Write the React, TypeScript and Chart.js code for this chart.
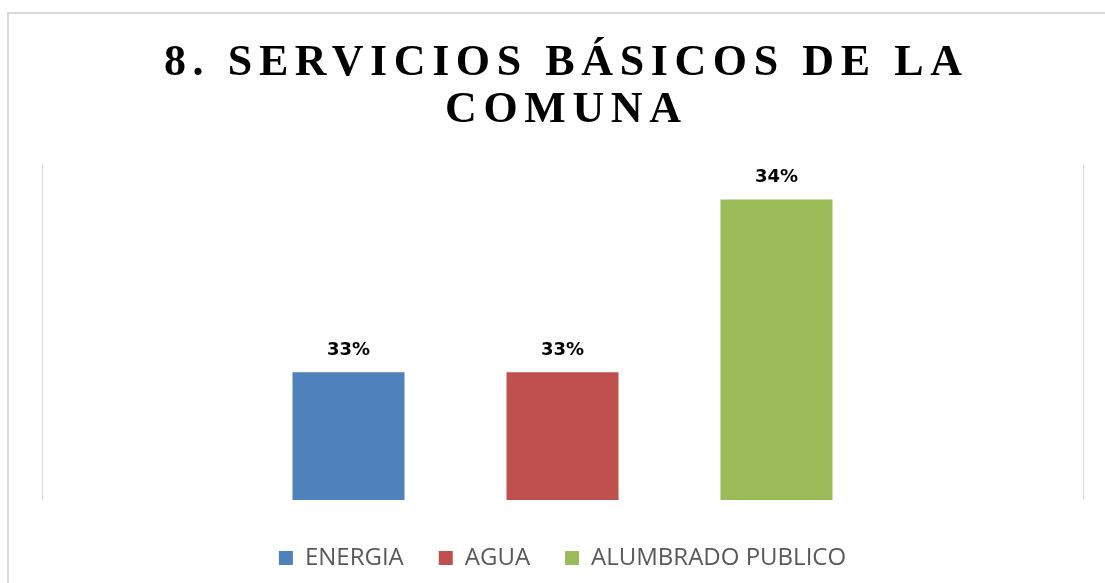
import React, { useEffect, useRef } from 'react';
import { Chart, registerables } from 'chart.js';

Chart.register(...registerables);

const titleLines = ['8. SERVICIOS BÁSICOS DE LA', 'COMUNA'];
const categories = [''];
const seriesNames = ['ENERGIA', 'AGUA', 'ALUMBRADO PUBLICO'];
const energiaValues = [33];
const aguaValues = [33];
const alumbradoValues = [34];
const seriesColors = ['#4F81BD', '#C0504D', '#9BBB59'];
const yMin = 32.26;
const yMax = 34.2;

const titlePlugin = {
  id: 'spacedTitle',
  afterDraw(chart: any) {
    const ctx = chart.ctx as CanvasRenderingContext2D;
    ctx.save();
    ctx.font = 'bold 44px "Liberation Serif", "Times New Roman", serif';
    ctx.fillStyle = '#000000';
    ctx.textAlign = 'left';
    ctx.textBaseline = 'alphabetic';
    const spacing = 6.6;
    const baselines = [74.5, 122];
    const centerX = 563;
    titleLines.forEach((line, i) => {
      (ctx as any).letterSpacing = '0px';
      const natural = ctx.measureText(line).width;
      const w = natural + spacing * (line.length - 1);
      (ctx as any).letterSpacing = spacing + 'px';
      ctx.fillText(line, centerX - w / 2, baselines[i]);
    });
    ctx.restore();
  },
};

const labelPlugin = {
  id: 'barLabels',
  afterDatasetsDraw(chart: any) {
    const ctx = chart.ctx as CanvasRenderingContext2D;
    ctx.save();
    ctx.font = 'bold 18px "DejaVu Sans", sans-serif';
    ctx.fillStyle = '#000000';
    ctx.textAlign = 'center';
    ctx.textBaseline = 'alphabetic';
    chart.data.datasets.forEach((ds: any, di: number) => {
      const meta = chart.getDatasetMeta(di);
      meta.data.forEach((bar: any, i: number) => {
        const v = ds.data[i];
        ctx.fillText(v + '%', bar.x, bar.y - 17.5);
      });
    });
    ctx.restore();
  },
};

export default function App() {
  const canvasRef = useRef<HTMLCanvasElement | null>(null);

  useEffect(() => {
    if (!canvasRef.current) return;
    const seriesValues = [energiaValues, aguaValues, alumbradoValues];
    const chart = new Chart(canvasRef.current, {
      type: 'bar',
      data: {
        labels: categories,
        datasets: seriesNames.map((name, i) => ({
          label: name,
          data: seriesValues[i],
          backgroundColor: seriesColors[i],
          borderWidth: 0,
          categoryPercentage: 0.6167,
          barPercentage: 0.5234,
        })),
      },
      options: {
        animation: false,
        responsive: true,
        maintainAspectRatio: false,
        events: [],
        layout: { padding: { top: 165, left: 42, right: 22, bottom: 3 } },
        plugins: {
          title: { display: false },
          tooltip: { enabled: false },
          legend: {
            display: true,
            position: 'bottom',
            labels: {
              boxWidth: 14,
              boxHeight: 14,
              padding: 35,
              color: '#595959',
              font: { family: '"Open Sans", sans-serif', size: 24 },
            },
          },
        },
        scales: {
          x: {
            display: true,
            grid: {
              display: true,
              offset: true,
              color: '#d9d9d9',
              lineWidth: 1,
              drawTicks: true,
              tickLength: 11,
              tickColor: 'rgba(0,0,0,0)',
            },
            border: { display: false },
            ticks: { display: false },
          },
          y: {
            display: false,
            min: yMin,
            max: yMax,
            bounds: 'data',
            grace: 0,
            beginAtZero: false,
          },
        },
      },
      plugins: [titlePlugin, labelPlugin],
    } as any);
    return () => chart.destroy();
  }, []);

  return (
    <div
      style={{
        position: 'fixed',
        left: 0,
        top: 0,
        width: 1105,
        height: 583,
        overflow: 'hidden',
        background: '#ffffff',
      }}
    >
      <div
        style={{
          position: 'absolute',
          left: 7,
          top: 12,
          width: 1200,
          height: 700,
          border: '2px solid #d9d9d9',
          boxSizing: 'border-box',
        }}
      />
      <div style={{ position: 'absolute', left: 0, top: 0, width: 1105, height: 583 }}>
        <canvas ref={canvasRef} />
      </div>
    </div>
  );
}
